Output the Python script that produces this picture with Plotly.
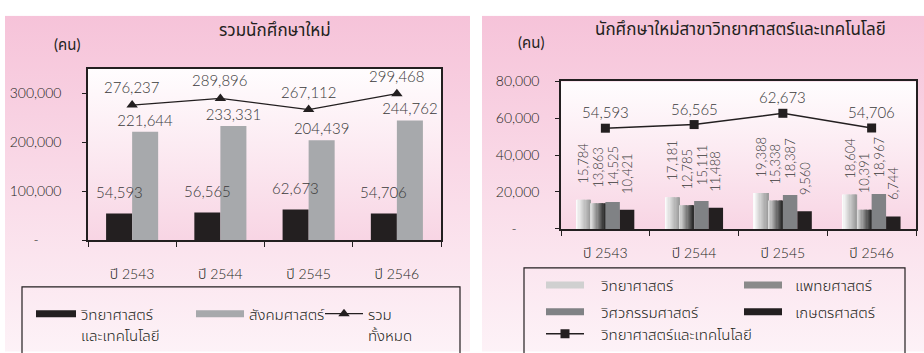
import base64
import plotly.graph_objects as go

# ---------------- data ----------------
years = ["ปี 2543", "ปี 2544", "ปี 2545", "ปี 2546"]
sci_tech = [54593, 56565, 62673, 54706]
social = [221644, 233331, 204439, 244762]
total = [276237, 289896, 267112, 299468]

science = [15784, 17181, 19388, 18604]
medicine = [13863, 12785, 15338, 10391]
engineering = [14525, 15111, 18387, 18967]
agriculture = [10421, 11488, 9560, 6744]
sci_tech_line = [54593, 56565, 62673, 54706]

left_ticks = [0, 100000, 200000, 300000]
left_ticktext = ["-\u00a0\u00a0\u00a0\u00a0\u00a0\u00a0", "100,000", "200,000", "300,000"]
right_ticks = [0, 20000, 40000, 60000, 80000]
right_ticktext = ["-\u00a0\u00a0\u00a0\u00a0\u00a0\u00a0", "20,000", "40,000", "60,000", "80,000"]

# ---------------- style ----------------
W, H = 924, 353
FONT = "Lato, Noto Sans Thai, Loma, Noto Sans, sans-serif"
INK = "#231f20"
TXT = "#3a3a3a"
WT = 300
SP = "\u00a0"


def fx(p):
    return p / W


def fy(p):
    return 1 - p / H


def fmt(v):
    return f"{v:,}"


def hex2rgb(h):
    h = h.lstrip("#")
    return tuple(int(h[i:i + 2], 16) for i in (0, 2, 4))


def mix(c1, c2, t):
    a, b = hex2rgb(c1), hex2rgb(c2)
    return "rgb(%d,%d,%d)" % tuple(round(a[i] + (b[i] - a[i]) * t) for i in range(3))


def grad_svg(c1, c2):
    svg = (
        '<svg xmlns="http://www.w3.org/2000/svg" width="100" height="100" viewBox="0 0 100 100" '
        'preserveAspectRatio="none"><defs><linearGradient id="g" x1="0" y1="0" x2="0" y2="1">'
        '<stop offset="0" stop-color="%s"/><stop offset="1" stop-color="%s"/></linearGradient></defs>'
        '<rect width="100" height="100" fill="url(#g)"/></svg>' % (c1, c2)
    )
    return "data:image/svg+xml;base64," + base64.b64encode(svg.encode()).decode()


def tfont(size, color=TXT, weight=WT):
    return dict(family=FONT, size=size, color=color, weight=weight)


fig = go.Figure()

# ---------------- left chart ----------------
LW = 0.295
fig.add_trace(go.Bar(x=years, y=sci_tech, offset=-LW, width=LW, marker=dict(color=INK, line_width=0),
                     showlegend=False, xaxis="x", yaxis="y", hoverinfo="skip"))
fig.add_trace(go.Bar(x=years, y=social, offset=0, width=LW, marker=dict(color="#a7a9ac", line_width=0),
                     text=[fmt(v) for v in social], textposition="outside", cliponaxis=False,
                     constraintext="none", textfont=tfont(15),
                     showlegend=False, xaxis="x", yaxis="y", hoverinfo="skip"))
fig.add_trace(go.Scatter(x=years, y=total, mode="lines+markers", name="รวม",
                         line=dict(color=INK, width=1.3), marker=dict(symbol="triangle-up", size=10, color=INK),
                         cliponaxis=False, legend="legend3", xaxis="x", yaxis="y", hoverinfo="skip"))
for xv, yv in zip(years, total):
    fig.add_annotation(x=xv, y=yv, xref="x", yref="y", text=fmt(yv), showarrow=False,
                       yshift=7, yanchor="bottom", font=tfont(15))
for xv, yv in zip(years, sci_tech):
    fig.add_annotation(x=xv, y=yv, xref="x", yref="y", text=fmt(yv), showarrow=False,
                       xshift=-13, yshift=11, yanchor="bottom", font=tfont(15))

# legend-only entries (left)
fig.add_trace(go.Scatter(x=[None], y=[None], mode="lines", name="วิทยาศาสตร์",
                         line=dict(color=INK, width=7), legend="legend", xaxis="x", yaxis="y"))
fig.add_trace(go.Scatter(x=[None], y=[None], mode="lines", name="และเทคโนโลยี",
                         line=dict(color="rgba(0,0,0,0)", width=0), legend="legend9", xaxis="x", yaxis="y"))
fig.add_trace(go.Scatter(x=[None], y=[None], mode="lines", name="สังคมศาสตร์",
                         line=dict(color="#a7a9ac", width=7), legend="legend2", xaxis="x", yaxis="y"))
fig.add_trace(go.Scatter(x=[None], y=[None], mode="lines", name="ทั้งหมด",
                         line=dict(color="rgba(0,0,0,0)", width=0), legend="legend10", xaxis="x", yaxis="y"))

# ---------------- right chart ----------------
RW = 0.163
series = [
    (science, -2 * RW, ("#ffffff", "#9a9a9a")),
    (medicine, -RW, ("#e2e2e2", "#262626")),
    (engineering, 0, ("#808285", "#808285")),
    (agriculture, RW, (INK, INK)),
]
NS = 12
for vals, off, (c1, c2) in series:
    if c1 == c2:
        fig.add_trace(go.Bar(x=years, y=vals, offset=off, width=RW, marker=dict(color=c1, line_width=0),
                             showlegend=False, xaxis="x2", yaxis="y2", hoverinfo="skip"))
    else:
        for k in range(NS):
            fig.add_trace(go.Bar(x=years, y=vals, offset=off + k * RW / NS,
                                 width=RW / NS * (1.25 if k < NS - 1 else 1.0),
                                 marker=dict(color=mix(c1, c2, (k + 0.5) / NS), line_width=0),
                                 showlegend=False, xaxis="x2", yaxis="y2", hoverinfo="skip"))

fig.add_trace(go.Scatter(x=years, y=sci_tech_line, mode="lines+markers", name=SP * 3 + "วิทยาศาสตร์และเทคโนโลยี",
                         line=dict(color=INK, width=1.5), marker=dict(symbol="square", size=9, color=INK),
                         cliponaxis=False, legend="legend8", xaxis="x2", yaxis="y2", hoverinfo="skip"))
for xv, yv in zip(years, sci_tech_line):
    fig.add_annotation(x=xv, y=yv, xref="x2", yref="y2", text=fmt(yv), showarrow=False,
                       yshift=5, yanchor="bottom", font=tfont(15))

xshift_px = [-22, -7.5, 7.5, 21.5]
for (vals, off, cols), xs in zip(series, xshift_px):
    for xv, yv in zip(years, vals):
        fig.add_annotation(x=xv, y=yv, xref="x2", yref="y2", text=fmt(yv), showarrow=False,
                           textangle=-90, xshift=xs, yshift=14, yanchor="bottom", font=tfont(13))

# legend-only entries (right)
for name, col, lg in [(SP * 3 + "วิทยาศาสตร์", "#d0d0d0", "legend4"), (SP * 2 + "แพทยศาสตร์", "#8a8a8a", "legend5"),
                      (SP * 3 + "วิศวกรรมศาสตร์", "#808285", "legend6"), (SP * 2 + "เกษตรศาสตร์", INK, "legend7")]:
    fig.add_trace(go.Scatter(x=[None], y=[None], mode="lines", name=name,
                             line=dict(color=col, width=7), legend=lg, xaxis="x2", yaxis="y2"))

# ---------------- axes ----------------
axis_common = dict(showline=True, linecolor=INK, linewidth=1.5, mirror=True, showgrid=False, zeroline=False,
                   ticks="outside", tickcolor=INK, tickwidth=1.2, tickfont=tfont(14, INK))
fig.update_layout(
    xaxis=dict(domain=[fx(88), fx(441)], anchor="y", tickson="boundaries", ticklen=5,
               ticklabelstandoff=20, **axis_common),
    yaxis=dict(domain=[fy(243), fy(63)], anchor="x", range=[0, 350000], tickvals=left_ticks,
               ticktext=left_ticktext, ticklen=4, ticklabelstandoff=18, **axis_common),
    xaxis2=dict(domain=[fx(561), fx(916)], anchor="y2", tickson="boundaries", ticklen=5,
                ticklabelstandoff=11, **axis_common),
    yaxis2=dict(domain=[fy(231), fy(76)], anchor="x2", range=[0, 80000], tickvals=right_ticks,
                ticktext=right_ticktext, ticklen=4, ticklabelstandoff=13, **axis_common),
)

# ---------------- backgrounds ----------------
images = [
    dict(source=grad_svg("#f6c3d9", "#fdf2f7"), xref="paper", yref="paper", x=fx(5), y=fy(7),
         sizex=fx(470) - fx(5), sizey=fy(7) - fy(360), sizing="stretch", layer="below"),
    dict(source=grad_svg("#f6c3d9", "#fdf2f7"), xref="paper", yref="paper", x=fx(482), y=fy(7),
         sizex=fx(924) - fx(482), sizey=fy(7) - fy(360), sizing="stretch", layer="below"),
    dict(source=grad_svg("#fffdfe", "#f8d5e4"), xref="paper", yref="paper", x=fx(88), y=fy(63),
         sizex=fx(441) - fx(88), sizey=fy(63) - fy(243), sizing="stretch", layer="below"),
    dict(source=grad_svg("#fffdfe", "#f8d5e4"), xref="paper", yref="paper", x=fx(561), y=fy(76),
         sizex=fx(916) - fx(561), sizey=fy(76) - fy(231), sizing="stretch", layer="below"),
]
fig.update_layout(images=images)

# legend boxes
fig.add_shape(type="rect", xref="paper", yref="paper", x0=fx(22), x1=fx(460), y0=fy(292), y1=fy(370),
              line=dict(color=INK, width=1.2), fillcolor="rgba(0,0,0,0)", layer="above")
fig.add_shape(type="rect", xref="paper", yref="paper", x0=fx(524), x1=fx(905), y0=fy(272), y1=fy(370),
              line=dict(color=INK, width=1.2), fillcolor="rgba(0,0,0,0)", layer="above")

# titles
for txt, xc, yc, size in [("รวมนักศึกษาใหม่", 275, 22, 17), ("(คน)", 67, 37, 15),
                          ("นักศึกษาใหม่สาขาวิทยาศาสตร์และเทคโนโลยี", 740, 20, 17), ("(คน)", 531, 35, 15)]:
    fig.add_annotation(x=fx(xc), y=fy(yc), xref="paper", yref="paper", text=txt, showarrow=False,
                       xanchor="center", yanchor="middle", font=tfont(size, INK, 400))


# legends
def leg(xp, yp, iw=38):
    return dict(x=fx(xp), y=fy(yp), xanchor="left", yanchor="top", orientation="v",
                bgcolor="rgba(0,0,0,0)", borderwidth=0, itemwidth=iw, valign="middle",
                font=tfont(15, INK), tracegroupgap=0)


fig.update_layout(
    legend=leg(31, 303, 40), legend9=leg(31, 326, 40), legend2=leg(191, 303, 48), legend3=leg(320, 303, 38),
    legend10=leg(320, 326, 38),
    legend4=leg(541, 273), legend5=leg(739, 273), legend6=leg(541, 301), legend7=leg(739, 301),
    legend8=leg(541, 324),
)

fig.update_layout(
    width=W, height=H, margin=dict(l=0, r=0, t=0, b=0), barmode="overlay",
    paper_bgcolor="white", plot_bgcolor="rgba(0,0,0,0)", showlegend=True,
    font=dict(family=FONT, color=INK),
)

fig.write_html("out.html", config={"displayModeBar": False},
               post_script="document.body.style.margin='0';document.body.style.overflow='hidden';")
